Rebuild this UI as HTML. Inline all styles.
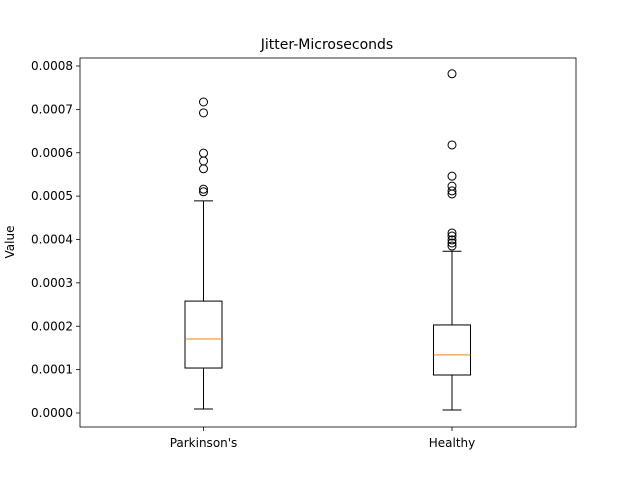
<!DOCTYPE html>
<html><head><meta charset="utf-8"><style>
body{margin:0;background:#fff;}
svg text{font-family:"DejaVu Sans","Liberation Sans",sans-serif;fill:#000;}
</style></head><body>
<svg id="chart" width="640" height="480"></svg>
<script>
const categories=["Parkinson's","Healthy"];
const whiskerLow=[0.0000092,0.0000069];
const q1=[0.0001037,0.0000876];
const medians=[0.0001706,0.000134];
const q3=[0.000258,0.000203];
const whiskerHigh=[0.000489,0.000373];
const outliers=[[0.000717,0.000692,0.000599,0.000581,0.000563,0.000516,0.000510],
[0.000782,0.000618,0.000546,0.000523,0.000512,0.000505,0.000415,0.000408,0.000399,0.000392,0.000385]];
const yTicks=[0,0.0001,0.0002,0.0003,0.0004,0.0005,0.0006,0.0007,0.0008];
const yTickLabels=["0.0000","0.0001","0.0002","0.0003","0.0004","0.0005","0.0006","0.0007","0.0008"];

const L=80,R=576,T=58,B=427;
const y=v=>413-v*433750;
const x=i=>L+(R-L)*(i+0.5)/2+(i===0?-0.5:0);
const svg=document.getElementById('chart');
const NS='http://www.w3.org/2000/svg';
function mk(tag,attrs,parent){const e=document.createElementNS(NS,tag);for(const k in attrs)e.setAttribute(k,attrs[k]);(parent||svg).appendChild(e);return e;}

let t=mk('text',{x:327,y:49,'text-anchor':'middle','font-size':14});t.textContent='Jitter-Microseconds';


t=mk('text',{x:14,y:242,'text-anchor':'middle','font-size':12,transform:'rotate(-90 14 242)'});t.textContent='Value';



yTicks.forEach((v,i)=>{
 const yy=y(v);
 const l=mk('line',{x1:L-4,x2:L,y1:yy,y2:yy,stroke:'#000','stroke-width':0.8});
 
 
 const tx=mk('text',{x:L-7,y:yy+4,'text-anchor':'end','font-size':12});tx.textContent=yTickLabels[i];
 
 
});

categories.forEach((c,i)=>{
 const cx=x(i),hw=18.5,cw=9.5;
 const g=mk('g',{});
 
 
 mk('line',{x1:cx,x2:cx,y1:y(whiskerLow[i]),y2:y(q1[i]),stroke:'#000'},g);
 mk('line',{x1:cx,x2:cx,y1:y(q3[i]),y2:y(whiskerHigh[i]),stroke:'#000'},g);
 mk('line',{x1:cx-cw,x2:cx+cw,y1:y(whiskerLow[i]),y2:y(whiskerLow[i]),stroke:'#000'},g);
 mk('line',{x1:cx-cw,x2:cx+cw,y1:y(whiskerHigh[i]),y2:y(whiskerHigh[i]),stroke:'#000'},g);
 mk('rect',{x:cx-hw,y:y(q3[i]),width:2*hw,height:y(q1[i])-y(q3[i]),fill:'none',stroke:'#000'},g);
 mk('line',{x1:cx-hw,x2:cx+hw,y1:y(medians[i]),y2:y(medians[i]),stroke:'#ff7f0e'},g);
 outliers[i].forEach(v=>{
  const o=mk('circle',{cx:cx,cy:y(v),r:4,fill:'none',stroke:'#000'},g);
  
  
 });
 const tk=mk('line',{x1:cx,x2:cx,y1:B,y2:B+4,stroke:'#000','stroke-width':0.8});
 
 
 const tx=mk('text',{x:cx,y:B+20,'text-anchor':'middle','font-size':12});tx.textContent=c;
 
 
});
const fr=mk('rect',{x:L,y:T,width:R-L,height:B-T,fill:'none',stroke:'#000','stroke-width':0.8});


</script>
</body></html>
